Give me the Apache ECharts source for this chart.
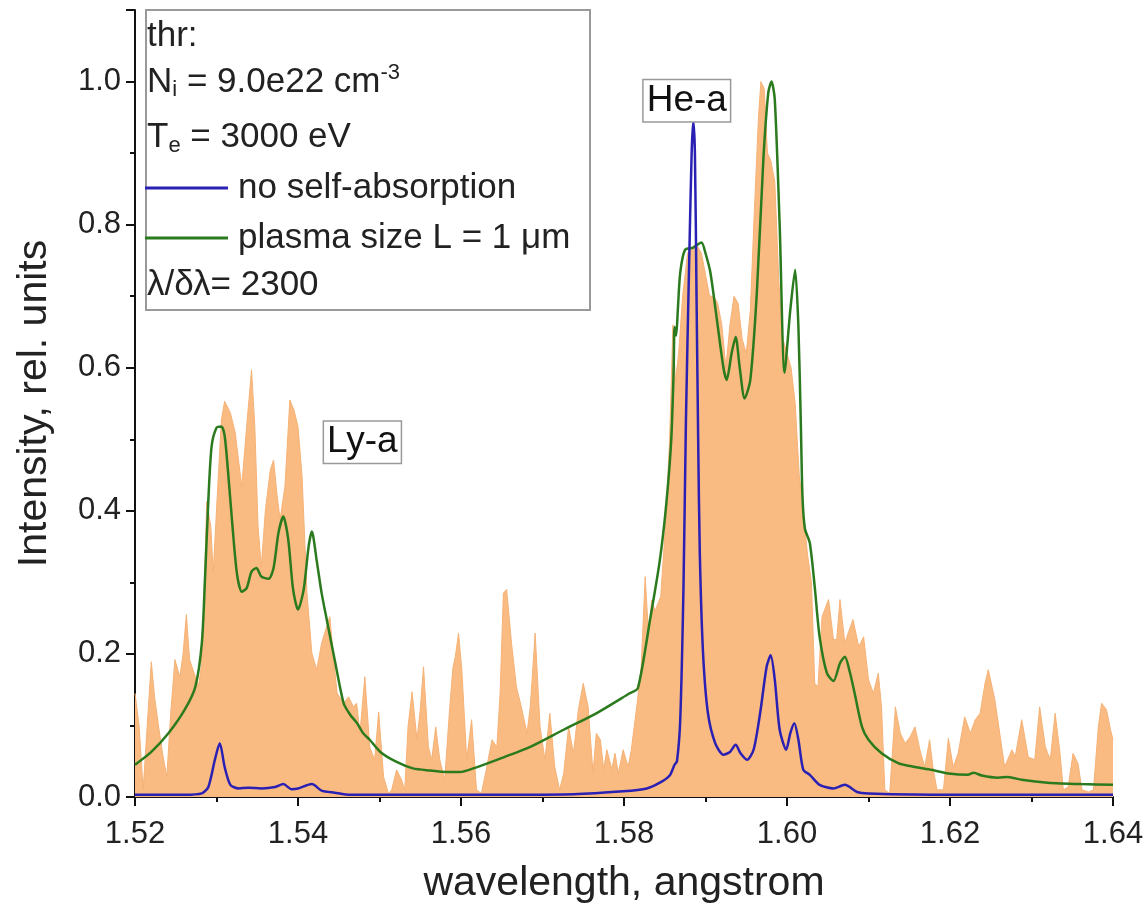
<!DOCTYPE html>
<html>
<head>
<meta charset="utf-8">
<script src="https://cdn.jsdelivr.net/npm/echarts@6/dist/echarts.min.js"></script>
<style>
  html, body { margin: 0; padding: 0; background: #fff; }
  #main { width: 1147px; height: 921px; }
</style>
</head>
<body>
<div id="main"></div>
<script>
// measured spectrum (orange fill)
var expWl = [1.5200,1.5205,1.5210,1.5215,1.5220,1.5224,1.5229,1.5234,1.5239,1.5244,1.5249,1.5255,1.5259,1.5263,1.5267,1.5274,1.5278,1.5281,1.5284,1.5288,
  1.5293,1.5296,1.5300,1.5306,1.5310,1.5317,1.5323,1.5327,1.5331,1.5337,1.5343,1.5347,1.5351,1.5355,1.5360,1.5366,1.5370,1.5374,1.5378,1.5384,
  1.5390,1.5395,1.5400,1.5405,1.5411,1.5417,1.5423,1.5429,1.5434,1.5439,1.5444,1.5448,1.5456,1.5462,1.5468,1.5472,1.5476,1.5482,1.5488,1.5494,
  1.5499,1.5505,1.5511,1.5515,1.5521,1.5527,1.5531,1.5535,1.5540,1.5546,1.5550,1.5554,1.5560,1.5564,1.5569,1.5574,1.5580,1.5586,1.5590,1.5593,
  1.5597,1.5601,1.5607,1.5613,1.5619,1.5625,1.5631,1.5638,1.5644,1.5648,1.5652,1.5656,1.5662,1.5668,1.5674,1.5681,1.5685,1.5691,1.5697,1.5703,
  1.5709,1.5715,1.5721,1.5726,1.5732,1.5738,1.5744,1.5750,1.5756,1.5762,1.5766,1.5771,1.5775,1.5779,1.5785,1.5789,1.5793,1.5799,1.5805,1.5809,
  1.5816,1.5821,1.5826,1.5830,1.5834,1.5838,1.5845,1.5851,1.5856,1.5860,1.5863,1.5867,1.5872,1.5878,1.5885,1.5890,1.5895,1.5900,1.5905,1.5910,
  1.5915,1.5920,1.5925,1.5930,1.5935,1.5940,1.5945,1.5950,1.5955,1.5960,1.5965,1.5968,1.5972,1.5976,1.5980,1.5985,1.5990,1.5995,1.6000,1.6005,
  1.6010,1.6015,1.6020,1.6025,1.6030,1.6034,1.6038,1.6043,1.6051,1.6057,1.6061,1.6065,1.6071,1.6075,1.6081,1.6088,1.6094,1.6100,1.6106,1.6112,
  1.6116,1.6120,1.6126,1.6133,1.6139,1.6145,1.6151,1.6157,1.6163,1.6169,1.6175,1.6179,1.6184,1.6192,1.6198,1.6204,1.6210,1.6218,1.6225,1.6231,
  1.6237,1.6243,1.6247,1.6255,1.6261,1.6267,1.6276,1.6280,1.6288,1.6296,1.6304,1.6310,1.6317,1.6323,1.6329,1.6335,1.6339,1.6345,1.6351,1.6357,
  1.6362,1.6370,1.6376,1.6382,1.6386,1.6392,1.6397,1.6400];
var expInt = [0.145,0.100,0.010,0.100,0.189,0.140,0.098,0.060,0.028,0.120,0.192,0.168,0.200,0.255,0.192,0.168,0.155,0.180,0.249,0.413,
  0.378,0.313,0.401,0.527,0.553,0.537,0.509,0.471,0.434,0.518,0.597,0.518,0.378,0.322,0.401,0.457,0.471,0.425,0.388,0.434,
  0.555,0.541,0.518,0.448,0.285,0.201,0.178,0.215,0.234,0.252,0.190,0.145,0.131,0.140,0.126,0.131,0.089,0.168,0.070,0.052,
  0.119,0.028,0.005,0.010,0.038,0.024,0.010,0.098,0.147,0.080,0.122,0.182,0.070,0.052,0.098,0.052,0.024,0.122,0.180,0.196,
  0.229,0.178,0.052,0.108,0.010,0.005,0.038,0.080,0.070,0.145,0.285,0.290,0.215,0.154,0.126,0.089,0.126,0.229,0.098,0.052,
  0.117,0.042,0.010,0.033,0.098,0.061,0.122,0.159,0.126,0.033,0.089,0.080,0.039,0.066,0.039,0.061,0.033,0.066,0.042,0.066,
  0.130,0.180,0.308,0.229,0.275,0.260,0.280,0.380,0.500,0.660,0.580,0.620,0.700,0.760,0.770,0.770,0.760,0.730,0.700,0.700,
  0.690,0.660,0.600,0.660,0.700,0.690,0.640,0.620,0.680,0.820,0.950,1.000,0.990,0.900,0.890,0.860,0.720,0.640,0.620,0.600,
  0.550,0.450,0.400,0.340,0.300,0.159,0.154,0.252,0.276,0.220,0.220,0.276,0.215,0.229,0.248,0.210,0.224,0.164,0.145,0.173,
  0.126,0.010,0.005,0.126,0.089,0.075,0.084,0.098,0.066,0.042,0.080,0.042,0.010,0.010,0.082,0.042,0.061,0.112,0.089,0.108,
  0.117,0.159,0.178,0.136,0.089,0.042,0.066,0.056,0.108,0.056,0.052,0.126,0.070,0.052,0.117,0.061,0.010,0.014,0.061,0.047,
  0.010,0.007,0.010,0.098,0.131,0.122,0.094,0.080];

// model, no self-absorption (blue)
var noAbsWl = [1.5200,1.5261,1.5282,1.5290,1.5298,1.5304,1.5310,1.5317,1.5327,1.5339,1.5355,1.5372,1.5382,1.5392,1.5400,1.5417,1.5429,1.5445,1.5464,1.5600,
  1.5738,1.5799,1.5828,1.5844,1.5856,1.5862,1.5865,1.5869,1.5873,1.5876,1.5880,1.5883,1.5885,1.5887,1.5889,1.5891,1.5893,1.5897,1.5903,1.5912,
  1.5922,1.5930,1.5937,1.5943,1.5951,1.5959,1.5967,1.5975,1.5980,1.5985,1.5991,1.5999,1.6004,1.6009,1.6014,1.6020,1.6028,1.6040,1.6057,1.6071,
  1.6086,1.6100,1.6200,1.6400];
var noAbsInt = [0.003,0.003,0.005,0.014,0.052,0.075,0.042,0.017,0.012,0.013,0.012,0.014,0.018,0.011,0.012,0.018,0.009,0.006,0.003,0.003,
  0.004,0.008,0.012,0.020,0.030,0.045,0.050,0.108,0.294,0.527,0.750,0.900,0.945,0.900,0.700,0.500,0.341,0.201,0.117,0.075,
  0.059,0.063,0.073,0.061,0.052,0.066,0.117,0.182,0.198,0.164,0.094,0.066,0.089,0.103,0.080,0.038,0.031,0.017,0.012,0.017,
  0.007,0.005,0.003,0.003];

// model, plasma size L = 1 um (green)
var plasmaWl = [1.5200,1.5220,1.5241,1.5261,1.5274,1.5282,1.5286,1.5290,1.5294,1.5300,1.5306,1.5310,1.5314,1.5319,1.5325,1.5331,1.5337,1.5343,1.5349,1.5355,
  1.5364,1.5370,1.5376,1.5382,1.5388,1.5394,1.5400,1.5407,1.5413,1.5417,1.5423,1.5429,1.5437,1.5445,1.5456,1.5464,1.5472,1.5480,1.5488,1.5501,
  1.5521,1.5541,1.5562,1.5582,1.5599,1.5615,1.5644,1.5685,1.5726,1.5766,1.5807,1.5817,1.5832,1.5844,1.5852,1.5858,1.5861,1.5862,1.5864,1.5866,
  1.5869,1.5875,1.5885,1.5895,1.5900,1.5906,1.5914,1.5922,1.5926,1.5932,1.5937,1.5942,1.5948,1.5955,1.5963,1.5971,1.5977,1.5981,1.5985,1.5991,
  1.5997,1.6004,1.6010,1.6014,1.6017,1.6019,1.6022,1.6028,1.6034,1.6040,1.6049,1.6057,1.6065,1.6071,1.6077,1.6083,1.6092,1.6100,1.6116,1.6137,
  1.6157,1.6177,1.6198,1.6222,1.6229,1.6239,1.6259,1.6271,1.6288,1.6320,1.6361,1.6400];
var plasmaInt = [0.045,0.063,0.089,0.122,0.154,0.215,0.308,0.415,0.490,0.516,0.518,0.505,0.457,0.387,0.313,0.287,0.292,0.315,0.320,0.308,
  0.305,0.320,0.369,0.392,0.360,0.290,0.262,0.290,0.350,0.371,0.330,0.285,0.238,0.192,0.131,0.115,0.104,0.089,0.080,0.063,
  0.049,0.040,0.037,0.035,0.035,0.040,0.052,0.070,0.094,0.117,0.145,0.152,0.248,0.331,0.411,0.500,0.600,0.657,0.645,0.680,
  0.733,0.765,0.768,0.775,0.760,0.733,0.667,0.600,0.583,0.620,0.643,0.600,0.557,0.583,0.705,0.891,0.984,1.000,0.975,0.800,
  0.593,0.680,0.737,0.657,0.520,0.420,0.375,0.355,0.294,0.224,0.173,0.162,0.187,0.196,0.175,0.145,0.098,0.080,0.061,0.047,
  0.042,0.038,0.033,0.031,0.034,0.030,0.027,0.028,0.024,0.020,0.018,0.017];

var yTicks = [0, 0.2, 0.4, 0.6, 0.8, 1.0];
var xTicks = [1.52, 1.54, 1.56, 1.58, 1.60, 1.62, 1.64];

function pairs(xs, ys) {
  return xs.map(function (x, i) { return [x, ys[i]]; });
}

var FONT = 'Liberation Sans';
var myChart = echarts.init(document.getElementById('main'));

var option = {
  backgroundColor: '#fff',
  animation: false,
  textStyle: { fontFamily: FONT },
  grid: { left: 135, right: 34, top: 10, bottom: 124, containLabel: false, outerBoundsMode: 'none' },
  xAxis: {
    type: 'value',
    min: 1.52, max: 1.64, interval: 0.02,
    name: 'wavelength, angstrom',
    nameLocation: 'middle',
    nameGap: 66,
    nameTextStyle: { fontSize: 41, color: '#222', fontFamily: FONT },
    axisLine: { lineStyle: { color: '#111', width: 2 } },
    axisTick: { length: 9, lineStyle: { color: '#111', width: 2 } },
    minorTick: { show: true, splitNumber: 2, length: 5, lineStyle: { color: '#111', width: 2 } },
    splitLine: { show: false },
    axisLabel: {
      fontSize: 31, color: '#222', margin: 22,
      formatter: function (v) { return xTicks.indexOf(Math.round(v * 100) / 100) >= 0 ? v.toFixed(2) : ''; }
    }
  },
  yAxis: {
    type: 'value',
    min: 0, max: 1.1, interval: 0.2,
    name: 'Intensity, rel. units',
    nameLocation: 'middle',
    nameGap: 80,
    nameTextStyle: { fontSize: 41, color: '#222', fontFamily: FONT },
    axisLine: { show: true, lineStyle: { color: '#111', width: 2 } },
    axisTick: { show: true, length: 9, lineStyle: { color: '#111', width: 2 } },
    minorTick: { show: true, splitNumber: 2, length: 5, lineStyle: { color: '#111', width: 2 } },
    splitLine: { show: false },
    axisLabel: {
      fontSize: 31, color: '#222', margin: 14,
      showMaxLabel: false,
      formatter: function (v) { return yTicks.indexOf(Math.round(v * 10) / 10) >= 0 ? v.toFixed(1) : ''; }
    }
  },
  legend: {
    data: ['no self-absorption', 'plasma size L = 1 \u03bcm'],
    orient: 'vertical',
    left: 145, top: 168,
    padding: 0,
    itemGap: 10,
    itemWidth: 83, itemHeight: 3,
    icon: 'rect',
    textStyle: { fontSize: 35, color: '#222', lineHeight: 40, fontFamily: FONT, padding: [0, 0, 0, 5] }
  },
  graphic: [
    {
      type: 'rect', left: 145, top: 9, z: 0,
      shape: { width: 444, height: 300 },
      style: { fill: 'rgba(255,255,255,0)', stroke: '#999', lineWidth: 2 }
    },
    {
      type: 'text', left: 147, top: 19,
      style: { text: 'thr:', fontSize: 35, fontFamily: FONT, fill: '#222' }
    },
    {
      type: 'text', left: 147, top: 62,
      style: {
        text: 'N{sub|i} = 9.0e22 cm{sup|-3}',
        fontSize: 35, fontFamily: FONT, fill: '#222',
        rich: {
          sub: { fontSize: 22, fontFamily: FONT, fill: '#222', padding: [16, 0, 0, 0] },
          sup: { fontSize: 22, fontFamily: FONT, fill: '#222', padding: [0, 0, 18, 0] }
        }
      }
    },
    {
      type: 'text', left: 147, top: 120,
      style: {
        text: 'T{sub|e} = 3000 eV',
        fontSize: 35, fontFamily: FONT, fill: '#222',
        rich: {
          sub: { fontSize: 22, fontFamily: FONT, fill: '#222', padding: [16, 0, 0, 0] }
        }
      }
    },
    {
      type: 'text', left: 147, top: 268,
      style: { text: '\u03bb/\u03b4\u03bb= 2300', fontSize: 35, fontFamily: FONT, fill: '#222' }
    }
  ],
  series: [
    {
      name: 'measured',
      type: 'line',
      data: pairs(expWl, expInt),
      showSymbol: false,
      z: 1,
      lineStyle: { width: 1, color: '#f6b276' },
      itemStyle: { color: '#f9b97f' },
      areaStyle: { color: '#f9bb82', opacity: 1 }
    },
    {
      name: 'plasma size L = 1 \u03bcm',
      type: 'line',
      data: pairs(plasmaWl, plasmaInt),
      showSymbol: false,
      smooth: 0.25,
      z: 3,
      color: '#2b7a1e',
      lineStyle: { width: 2.5, color: '#2b7a1e' },
      itemStyle: { color: '#2b7a1e' }
    },
    {
      name: 'no self-absorption',
      type: 'line',
      data: pairs(noAbsWl, noAbsInt),
      showSymbol: false,
      smooth: 0.25,
      z: 4,
      color: '#2a20b4',
      lineStyle: { width: 2.5, color: '#2a20b4' },
      itemStyle: { color: '#2a20b4' },
      markPoint: {
        symbol: 'rect',
        symbolSize: 1,
        itemStyle: { color: 'rgba(0,0,0,0)' },
        label: {
          show: true, position: 'inside',
          fontSize: 37, color: '#111', fontFamily: FONT,
          backgroundColor: '#fff', borderColor: '#999', borderWidth: 1.5,
          padding: [3, 3, 1, 3],
          formatter: function (p) { return p.name; }
        },
        data: [
          { name: 'He-a', coord: [1.5877, 0.973] },
          { name: 'Ly-a', coord: [1.5479, 0.496] }
        ]
      }
    }
  ]
};

myChart.setOption(option);
</script>
</body>
</html>
